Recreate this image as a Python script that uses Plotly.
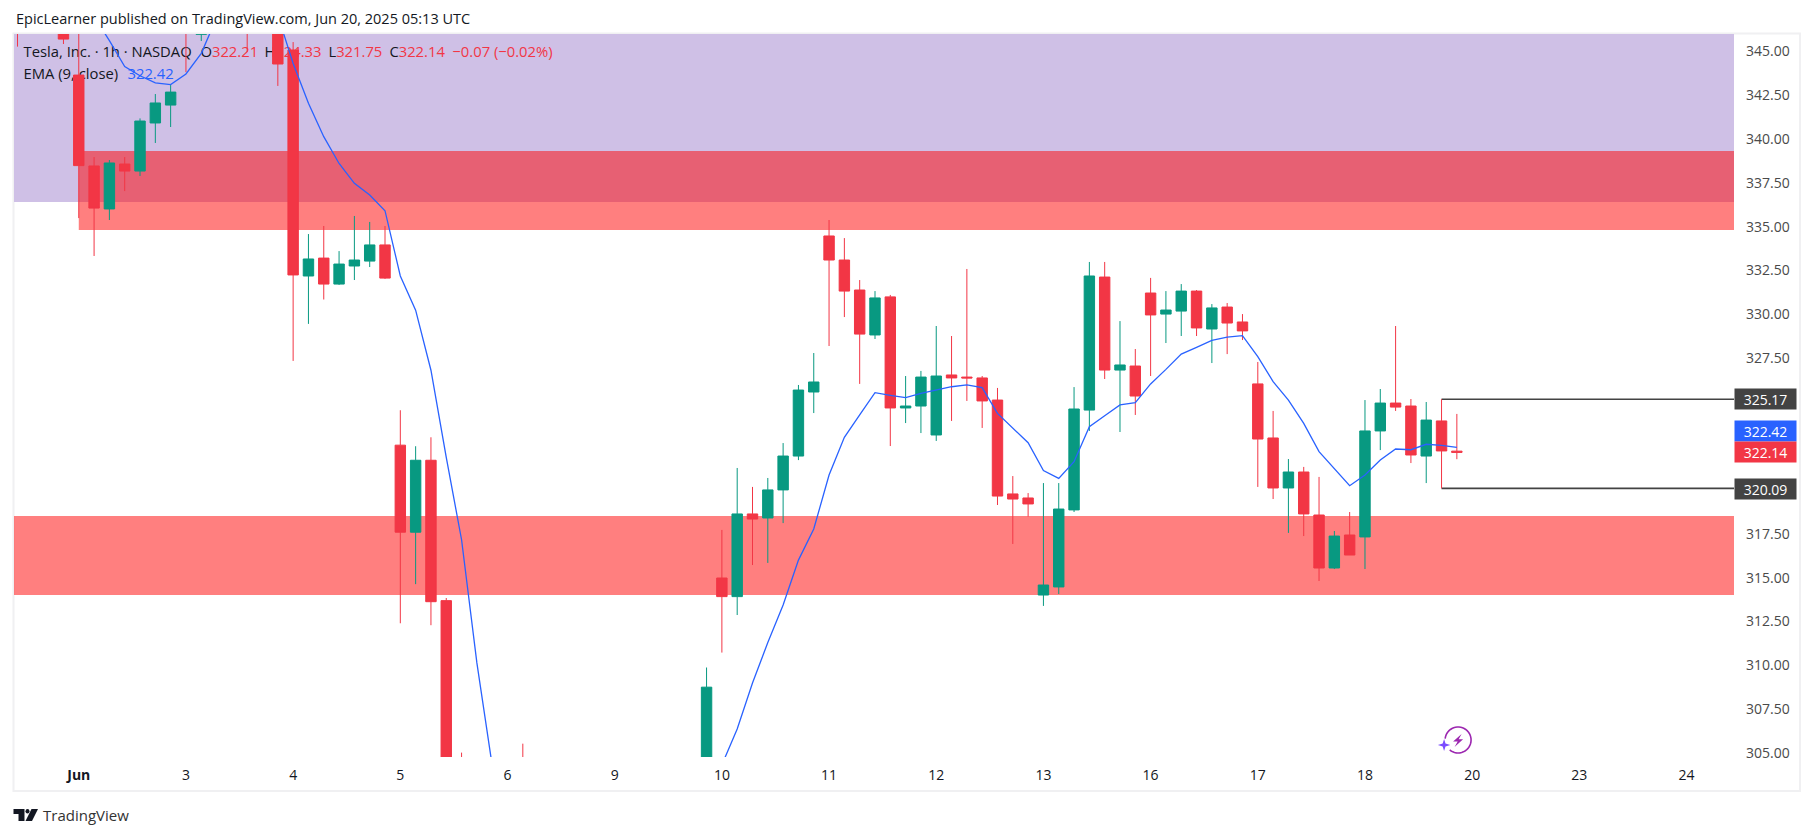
import math
import plotly.graph_objects as go

# ---- data (bars above / below the visible price window are estimates) ----
bar_index = list(range(-4, 91))
opens = [347.5, 348.0, 348.5, 347.0,
 343.64, 338.46, 336.01, 338.57, 338.17, 340.91, 341.93,
 348.0, 345.96, 347.0, 348.0, 347.5, 347.0, 347.5,
 345.07, 332.19, 333.21, 331.73, 332.76, 333.04, 333.96,
 322.55, 317.59, 321.69, 313.69, 304.4, 300.2, 299.6,
 297.0, 297.5, 296.8, 297.4, 298.0, 298.5, 299.5,
 299.0, 299.6, 300.2, 300.5, 301.0, 302.0, 303.0,
 314.98, 313.92, 318.63, 318.4, 320.0, 321.93, 325.58,
 334.47, 333.1, 331.39, 328.83, 331.0, 324.67, 324.78,
 323.13, 326.55, 326.43, 326.38, 325.12, 319.77, 319.54,
 314.01, 314.47, 318.86, 324.55, 332.13, 326.83, 327.06,
 331.22, 330.02, 330.19, 331.33, 329.17, 330.42, 329.57,
 326.04, 322.96, 320.11, 321.02, 318.57, 315.55, 317.43,
 317.32, 323.36, 324.95, 324.78, 321.93, 323.93, 322.21]
highs = [349.0, 349.0, 349.5, 348.0,
 347.0, 338.97, 338.8, 338.97, 341.17, 342.56, 343.07,
 349.0, 347.5, 348.0, 348.5, 348.0, 348.0, 348.5,
 345.52, 334.58, 335.04, 333.61, 335.61, 335.27, 335.04,
 324.54, 322.49, 323.0, 313.84, 305.03, 301.5, 300.5,
 298.0, 305.54, 298.0, 298.5, 299.0, 299.5, 300.5,
 300.0, 300.5, 301.0, 301.5, 302.0, 303.0, 309.88,
 317.72, 321.25, 320.17, 320.68, 322.67, 325.98, 327.8,
 335.38, 334.35, 331.96, 331.33, 331.11, 326.49, 326.78,
 329.34, 328.77, 332.59, 326.49, 325.81, 320.79, 319.82,
 320.39, 320.39, 325.86, 332.99, 332.99, 329.62, 328.03,
 332.08, 331.33, 331.73, 331.39, 330.59, 330.65, 330.02,
 327.29, 324.5, 321.76, 321.31, 320.74, 317.66, 318.74,
 325.12, 325.75, 329.34, 325.18, 325.01, 325.17, 324.33]
lows = [345.26, 346.5, 346.8, 345.41,
 335.49, 333.33, 335.38, 337.03, 337.89, 339.77, 340.68,
 343.81, 345.58, 346.5, 346.5, 344.95, 346.0, 343.02,
 327.35, 329.46, 330.85, 331.68, 331.96, 332.7, 332.02,
 312.4, 314.63, 312.29, 303.0, 299.0, 299.0, 296.0,
 296.0, 296.5, 296.0, 296.5, 297.0, 297.5, 298.0,
 298.0, 298.5, 299.0, 299.5, 300.0, 301.0, 302.0,
 310.73, 312.87, 315.72, 315.84, 318.11, 321.7, 324.38,
 328.2, 329.85, 326.04, 328.6, 322.5, 323.81, 323.24,
 322.79, 323.93, 325.07, 323.53, 319.14, 316.92, 318.48,
 313.39, 314.07, 318.74, 323.36, 326.32, 323.3, 324.27,
 326.49, 328.37, 328.77, 328.77, 327.23, 327.74, 328.54,
 320.17, 319.48, 317.55, 317.37, 314.81, 315.49, 316.29,
 315.49, 322.27, 324.5, 321.53, 320.39, 320.09, 321.75]
closes = [346.5, 347.0, 347.0, 345.69,
 338.48, 336.06, 338.63, 338.17, 341.02, 342.05, 342.67,
 346.5, 347.0, 347.5, 347.0, 346.5, 347.5, 344.27,
 332.25, 333.16, 331.73, 332.87, 333.1, 333.96, 332.07,
 317.59, 321.69, 313.63, 304.4, 300.2, 299.6, 297.0,
 297.5, 296.8, 297.4, 298.0, 298.5, 299.5, 299.0,
 299.6, 300.2, 300.5, 301.0, 302.0, 303.0, 308.76,
 313.92, 318.63, 318.34, 320.0, 321.93, 325.69, 326.15,
 333.1, 331.33, 328.88, 330.94, 324.67, 324.78, 326.43,
 326.49, 326.38, 326.38, 325.07, 319.65, 319.48, 319.2,
 314.58, 318.91, 324.61, 332.19, 326.83, 327.12, 325.35,
 329.97, 330.25, 331.33, 329.23, 330.37, 329.51, 329.06,
 322.9, 320.11, 321.02, 318.63, 315.55, 317.37, 316.29,
 323.36, 324.95, 324.72, 321.99, 323.98, 322.22, 322.14]
ema = [352.0, 351.0, 350.0, 349.0,
 348.0, 347.0, 345.6, 344.12, 343.6, 343.2, 343.1,
 343.7, 344.88, 346.9, 348.0, 348.0, 347.6, 347.04,
 344.3, 342.03, 340.13, 338.6, 337.47, 336.8, 335.91,
 332.19, 330.24, 326.82, 321.85, 317.16, 310.14, 304.3,
 303.0, 301.5, 300.5, 300.0, 299.5, 299.5, 299.5,
 299.5, 300.0, 300.5, 301.0, 302.0, 303.0, 303.6,
 304.33, 306.38, 309.0, 311.3, 313.44, 316.0, 317.77,
 320.85, 323.0, 324.27, 325.54, 325.39, 325.26, 325.5,
 325.69, 325.88, 325.98, 325.83, 324.36, 323.51, 322.69,
 321.1, 320.66, 321.61, 323.6, 324.23, 324.84, 324.97,
 326.04, 326.87, 327.74, 328.12, 328.52, 328.71, 328.79,
 327.59, 326.17, 325.12, 323.79, 322.18, 321.23, 320.24,
 320.85, 321.7, 322.33, 322.29, 322.6, 322.54, 322.42]

date_ticks = [0, 7, 14, 21, 28, 35, 42, 49, 56, 63, 70, 77, 84, 91, 98, 105]
date_labels = ["<b>Jun</b>", "3", "4", "5", "6", "9", "10", "11", "12", "13", "16", "17", "18", "20", "23", "24"]
price_ticks = [345, 342.5, 340, 337.5, 335, 332.5, 330, 327.5, 317.5, 315, 312.5, 310, 307.5, 305]
price_tick_labels = ["345.00", "342.50", "340.00", "337.50", "335.00", "332.50", "330.00", "327.50",
                     "317.50", "315.00", "312.50", "310.00", "307.50", "305.00"]

zone_upper_purple = (336.4, None)
zone_upper_red = (334.81, 339.31)
zone_lower_red = (314.01, 318.51)
range_high = 325.17
range_low = 320.09
range_start_bar = 89
last_close = 322.14
last_ema = 322.42

# ---- layout constants ----
W, H = 1814, 836
L, R, T, B = 13.5, 1734.0, 34.0, 757.0
X_RANGE = [-4.23, 108.1]
Y_RANGE = [304.78, 345.98]
UP, DOWN, BLUE, DARK = "#089981", "#F23645", "#2962FF", "#434343"
FONT = "Open Sans"


def px(x):
    return (x - L) / (R - L)


def py(y):
    return (B - y) / (B - T)


def bar_x(x):
    return X_RANGE[0] + (x - L) / (R - L) * (X_RANGE[1] - X_RANGE[0])


def price_y(y):
    return Y_RANGE[0] + (B - y) / (B - T) * (Y_RANGE[1] - Y_RANGE[0])


def dark(s):
    return f'<span style="color:#131722">{s}</span>'


def red(s):
    return f'<span style="color:{DOWN}">{s}</span>'


legend_items = [
    (23, 53, dark("Tesla, Inc. · 1h · NASDAQ")),
    (200, 53, dark("O") + red("322.21")),
    (264, 53, dark("H") + red("324.33")),
    (328, 53, dark("L") + red("321.75")),
    (389, 53, dark("C") + red("322.14")),
    (452, 53, red("−0.07 (−0.02%)")),
    (23, 75, dark("EMA (9, close)")),
    (127, 75, f'<span style="color:{BLUE}">322.42</span>'),
]

fig = go.Figure()

# legend sits under the candles, as in the picture, so it goes on the base axes
fig.add_trace(go.Scatter(
    x=[bar_x(i[0]) for i in legend_items], y=[price_y(i[1]) for i in legend_items],
    text=[i[2] for i in legend_items], mode="text", textposition="middle right",
    textfont=dict(family=FONT, size=14.8, color="#131722"),
    hoverinfo="skip", showlegend=False, xaxis="x", yaxis="y", cliponaxis=False))

fig.add_trace(go.Candlestick(
    x=bar_index, open=opens, high=highs, low=lows, close=closes,
    increasing=dict(line=dict(color=UP, width=1), fillcolor=UP),
    decreasing=dict(line=dict(color=DOWN, width=1), fillcolor=DOWN),
    whiskerwidth=0, hoverinfo="skip", showlegend=False, xaxis="x2", yaxis="y2"))

fig.add_trace(go.Scatter(
    x=bar_index, y=ema, mode="lines", line=dict(color=BLUE, width=1.3),
    hoverinfo="skip", showlegend=False, xaxis="x2", yaxis="y2"))

shapes = [
    dict(type="rect", xref="x", yref="y", x0=X_RANGE[0], x1=X_RANGE[1], y0=zone_upper_purple[0], y1=Y_RANGE[1],
         fillcolor="#CFC0E6", line_width=0, layer="below"),
    dict(type="rect", xref="x", yref="y", x0=0, x1=X_RANGE[1], y0=zone_upper_red[0], y1=zone_upper_red[1],
         fillcolor="rgba(255,0,0,0.5)", line_width=0, layer="below"),
    dict(type="rect", xref="x", yref="y", x0=X_RANGE[0], x1=X_RANGE[1], y0=zone_lower_red[0], y1=zone_lower_red[1],
         fillcolor="rgba(255,0,0,0.5)", line_width=0, layer="below"),
    dict(type="line", xref="x", yref="y", x0=range_start_bar, x1=X_RANGE[1], y0=range_high, y1=range_high,
         line=dict(color=DARK, width=1.6), layer="below"),
    dict(type="line", xref="x", yref="y", x0=range_start_bar, x1=X_RANGE[1], y0=range_low, y1=range_low,
         line=dict(color=DARK, width=1.6), layer="below"),
    # outer frame
    dict(type="rect", xref="paper", yref="paper", x0=px(13), x1=px(1800), y0=py(791), y1=py(33.5),
         line=dict(color="#F0F0F2", width=2), fillcolor="rgba(0,0,0,0)", layer="below"),
]


def path(points, close=True):
    d = "M" + " L".join(f"{px(a):.5f},{py(b):.5f}" for a, b in points)
    return d + (" Z" if close else "")


# TradingView mark
shapes += [
    dict(type="path", xref="paper", yref="paper", path=path([(13, 809), (24, 809), (24, 821), (18, 821), (18, 814), (13, 814)]),
         fillcolor="#131722", line_width=0),
    dict(type="circle", xref="paper", yref="paper", x0=px(25), x1=px(29), y0=py(813.5), y1=py(809),
         fillcolor="#131722", line_width=0),
    dict(type="path", xref="paper", yref="paper", path=path([(31, 809), (37.5, 809), (31.5, 821), (25, 821)]),
         fillcolor="#131722", line_width=0),
]

# lightning badge: open ring, bolt and four-point star
ring = [(1458 + 13 * math.cos(math.radians(a)), 740 - 13 * math.sin(math.radians(a)))
        for a in range(-130, 176, 8)]
shapes += [
    dict(type="path", xref="paper", yref="paper", path=path(ring, close=False),
         line=dict(color="#9C27B0", width=1.6)),
    dict(type="path", xref="paper", yref="paper",
         path=path([(1461.5, 734), (1453, 741.5), (1457.6, 741.5), (1454.5, 747), (1463, 739.3), (1458.6, 739.3)]),
         fillcolor="#9C27B0", line_width=0),
    dict(type="path", xref="paper", yref="paper",
         path=path([(1444, 739), (1445.4, 743.6), (1450.2, 745), (1445.4, 746.4), (1444, 751), (1442.6, 746.4),
                    (1437.8, 745), (1442.6, 743.6)]),
         fillcolor="#7B4DFF", line_width=0),
]


def label(price, text, color, yshift=0):
    return dict(xref="paper", yref="y", x=px(1766), y=price, yshift=yshift, text=text, showarrow=False,
                xanchor="center", yanchor="middle", width=61, height=20, bgcolor=color, borderpad=0,
                font=dict(family=FONT, size=14, color="#FFFFFF"))


annotations = [
    dict(xref="paper", yref="paper", x=px(13), y=py(18.5), xanchor="left", yanchor="middle", showarrow=False,
         text="EpicLearner published on TradingView.com, Jun 20, 2025 05:13 UTC",
         font=dict(family=FONT, size=14.5, color="#131722")),
    dict(xref="paper", yref="paper", x=px(41), y=py(815), xanchor="left", yanchor="middle", showarrow=False,
         text="TradingView", font=dict(family=FONT, size=15, color="#333333")),
    label(range_high, "325.17", DARK),
    label(range_low, "320.09", DARK, yshift=-1),
    label(last_ema, "322.42", BLUE, yshift=16),
    label(last_close, "322.14", DOWN),
]

fig.update_layout(
    width=W, height=H, autosize=False,
    margin=dict(l=L, r=W - R, t=T, b=H - B, pad=0),
    paper_bgcolor="#FFFFFF", plot_bgcolor="#FFFFFF", showlegend=False,
    boxgap=0.32, boxgroupgap=0,
    shapes=shapes, annotations=annotations,
    xaxis=dict(range=X_RANGE, tickmode="array", tickvals=date_ticks, ticktext=date_labels, showgrid=False,
               zeroline=False, showline=False, ticks="", fixedrange=True, rangeslider=dict(visible=False),
               tickfont=dict(family=FONT, size=14, color="#131722"), ticklen=0, ticklabelstandoff=8),
    yaxis=dict(range=Y_RANGE, side="right", tickmode="array", tickvals=price_ticks, ticktext=price_tick_labels,
               showgrid=False, zeroline=False, showline=False, ticks="", fixedrange=True, ticklabelstandoff=11,
               tickfont=dict(family=FONT, size=14, color="#4A4A4A")),
    xaxis2=dict(range=X_RANGE, overlaying="x", visible=False, fixedrange=True, rangeslider=dict(visible=False)),
    yaxis2=dict(range=Y_RANGE, overlaying="y", side="right", visible=False, fixedrange=True),
)

fig.write_html("out.html", config={"displayModeBar": False},
               post_script="document.body.style.margin='0';document.documentElement.style.overflow='hidden';")
